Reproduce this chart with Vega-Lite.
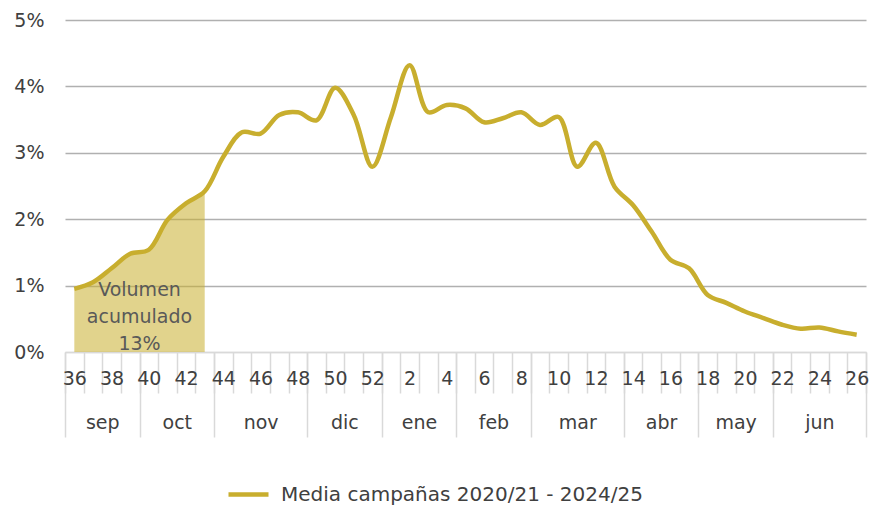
{
  "$schema": "https://vega.github.io/schema/vega-lite/v6.json",
  "width": 801,
  "height": 332,
  "autosize": {"type": "none"},
  "padding": {"left": 65, "top": 20, "right": 6, "bottom": 154},
  "background": "white",
  "config": {
    "view": {"stroke": null},
    "font": "DejaVu Sans",
    "axis": {"title": null}
  },
  "data": {
    "values": [
      {"i": 0, "semana": 36, "v": 0.95},
      {"i": 1, "semana": 37, "v": 1.05},
      {"i": 2, "semana": 38, "v": 1.26},
      {"i": 3, "semana": 39, "v": 1.48},
      {"i": 4, "semana": 40, "v": 1.54},
      {"i": 5, "semana": 41, "v": 1.99},
      {"i": 6, "semana": 42, "v": 2.24},
      {"i": 7, "semana": 43, "v": 2.42},
      {"i": 8, "semana": 44, "v": 2.94},
      {"i": 9, "semana": 45, "v": 3.31},
      {"i": 10, "semana": 46, "v": 3.29},
      {"i": 11, "semana": 47, "v": 3.57},
      {"i": 12, "semana": 48, "v": 3.61},
      {"i": 13, "semana": 49, "v": 3.49},
      {"i": 14, "semana": 50, "v": 3.98},
      {"i": 15, "semana": 51, "v": 3.57},
      {"i": 16, "semana": 52, "v": 2.79},
      {"i": 17, "semana": 1, "v": 3.54},
      {"i": 18, "semana": 2, "v": 4.32},
      {"i": 19, "semana": 3, "v": 3.61},
      {"i": 20, "semana": 4, "v": 3.72},
      {"i": 21, "semana": 5, "v": 3.67},
      {"i": 22, "semana": 6, "v": 3.46},
      {"i": 23, "semana": 7, "v": 3.52},
      {"i": 24, "semana": 8, "v": 3.61},
      {"i": 25, "semana": 9, "v": 3.42},
      {"i": 26, "semana": 10, "v": 3.54},
      {"i": 27, "semana": 11, "v": 2.79},
      {"i": 28, "semana": 12, "v": 3.15},
      {"i": 29, "semana": 13, "v": 2.49},
      {"i": 30, "semana": 14, "v": 2.21},
      {"i": 31, "semana": 15, "v": 1.81},
      {"i": 32, "semana": 16, "v": 1.39},
      {"i": 33, "semana": 17, "v": 1.26},
      {"i": 34, "semana": 18, "v": 0.86},
      {"i": 35, "semana": 19, "v": 0.74},
      {"i": 36, "semana": 20, "v": 0.61},
      {"i": 37, "semana": 21, "v": 0.51},
      {"i": 38, "semana": 22, "v": 0.41},
      {"i": 39, "semana": 23, "v": 0.35},
      {"i": 40, "semana": 24, "v": 0.37},
      {"i": 41, "semana": 25, "v": 0.31},
      {"i": 42, "semana": 26, "v": 0.26}
    ]
  },
  "resolve": {"axis": {"x": "independent"}},
  "layer": [
    {
      "transform": [{"filter": "datum.i <= 7"}],
      "mark": {"type": "area", "interpolate": "catmull-rom", "color": "#C8AE2E", "opacity": 0.55},
      "encoding": {
        "x": {
          "field": "i", "type": "quantitative",
          "scale": {"domain": [-0.5, 42.5], "nice": false, "zero": false},
          "axis": {
            "orient": "bottom",
            "values": [-0.5, 3.5, 7.5, 12.5, 16.5, 20.5, 24.5, 29.5, 33.5, 37.5, 42.5],
            "labels": false, "domain": false, "grid": false,
            "ticks": true, "tickSize": 85, "tickColor": "#D9D9D9", "tickWidth": 1.5
          }
        },
        "y": {
          "field": "v", "type": "quantitative",
          "scale": {"domain": [0, 5], "nice": false},
          "axis": {
            "values": [0, 1, 2, 3, 4, 5],
            "labelExpr": "datum.value + '%'",
            "domain": false, "ticks": false,
            "labelPadding": 21, "labelFontSize": 19, "labelColor": "#404040",
            "grid": true, "gridWidth": 1.5,
            "gridColor": {"condition": {"test": "datum.value === 0", "value": "#D9D9D9"}, "value": "#B0B0B0"}
          }
        }
      }
    },
    {
      "mark": {"type": "line", "interpolate": "catmull-rom", "strokeWidth": 4.5},
      "encoding": {
        "x": {
          "field": "i", "type": "quantitative",
          "scale": {"domain": [-0.5, 42.5], "nice": false, "zero": false},
          "axis": {
            "orient": "bottom",
            "values": [-0.5, 0.5, 1.5, 2.5, 3.5, 4.5, 5.5, 6.5, 7.5, 8.5, 9.5, 10.5, 11.5, 12.5, 13.5, 14.5, 15.5, 16.5, 17.5, 18.5, 19.5, 20.5, 21.5, 22.5, 23.5, 24.5, 25.5, 26.5, 27.5, 28.5, 29.5, 30.5, 31.5, 32.5, 33.5, 34.5, 35.5, 36.5, 37.5, 38.5, 39.5, 40.5, 41.5, 42.5],
            "labelExpr": "(datum.value + 0.5) % 2 === 0 && datum.value < 42 ? ((datum.value + 0.5) <= 16 ? (datum.value + 36.5) : (datum.value - 15.5)) : ''",
            "labelOffset": 9.31,
            "labelFlush": false, "labelOverlap": false, "labelBound": false,
            "labelPadding": -24, "labelFontSize": 19, "labelColor": "#404040",
            "labelAlign": "center",
            "domain": true, "domainColor": "#D9D9D9", "domainWidth": 1.5,
            "ticks": true, "tickSize": 41, "tickColor": "#D9D9D9", "tickWidth": 1.5,
            "grid": false
          }
        },
        "y": {
          "field": "v", "type": "quantitative",
          "scale": {"domain": [0, 5], "nice": false},
          "axis": {
            "values": [0, 1, 2, 3, 4, 5],
            "labelExpr": "datum.value + '%'",
            "domain": false, "ticks": false,
            "labelPadding": 21, "labelFontSize": 19, "labelColor": "#404040",
            "grid": true, "gridWidth": 1.5,
            "gridColor": {"condition": {"test": "datum.value === 0", "value": "#D9D9D9"}, "value": "#B0B0B0"}
          }
        },
        "color": {
          "datum": "Media campañas 2020/21 - 2024/25",
          "scale": {"range": ["#C8AE2E"]},
          "legend": {
            "title": null, "orient": "none", "legendX": 161, "legendY": 452,
            "symbolType": "stroke", "symbolSize": 1600, "symbolStrokeWidth": 4.5,
            "labelFontSize": 20, "labelColor": "#404040", "labelOffset": 10, "labelLimit": 0
          }
        }
      }
    },
    {
      "data": {"values": [{"i": 3.5, "v": 0.93, "texto": "Volumen\nacumulado\n13%"}]},
      "mark": {"type": "text", "lineBreak": "\n", "align": "center", "baseline": "middle", "fontSize": 19, "lineHeight": 27, "color": "#595959"},
      "encoding": {
        "x": {
          "field": "i", "type": "quantitative",
          "scale": {"domain": [-0.5, 42.5], "nice": false, "zero": false},
          "axis": {
            "orient": "bottom",
            "values": [1.5, 5.5, 10, 14.5, 18.5, 22.5, 27, 31.5, 35.5, 40],
            "labelExpr": "datum.value == 1.5 ? 'sep' : datum.value == 5.5 ? 'oct' : datum.value == 10 ? 'nov' : datum.value == 14.5 ? 'dic' : datum.value == 18.5 ? 'ene' : datum.value == 22.5 ? 'feb' : datum.value == 27 ? 'mar' : datum.value == 31.5 ? 'abr' : datum.value == 35.5 ? 'may' : 'jun'",
            "labelFlush": false, "labelOverlap": false, "labelBound": false,
            "labelPadding": 61, "labelFontSize": 19, "labelColor": "#404040",
            "domain": false, "ticks": false, "grid": false
          }
        },
        "y": {
          "field": "v", "type": "quantitative",
          "scale": {"domain": [0, 5], "nice": false},
          "axis": {
            "values": [0, 1, 2, 3, 4, 5],
            "labelExpr": "datum.value + '%'",
            "domain": false, "ticks": false,
            "labelPadding": 21, "labelFontSize": 19, "labelColor": "#404040",
            "grid": true, "gridWidth": 1.5,
            "gridColor": {"condition": {"test": "datum.value === 0", "value": "#D9D9D9"}, "value": "#B0B0B0"}
          }
        },
        "text": {"field": "texto"}
      }
    }
  ]
}
